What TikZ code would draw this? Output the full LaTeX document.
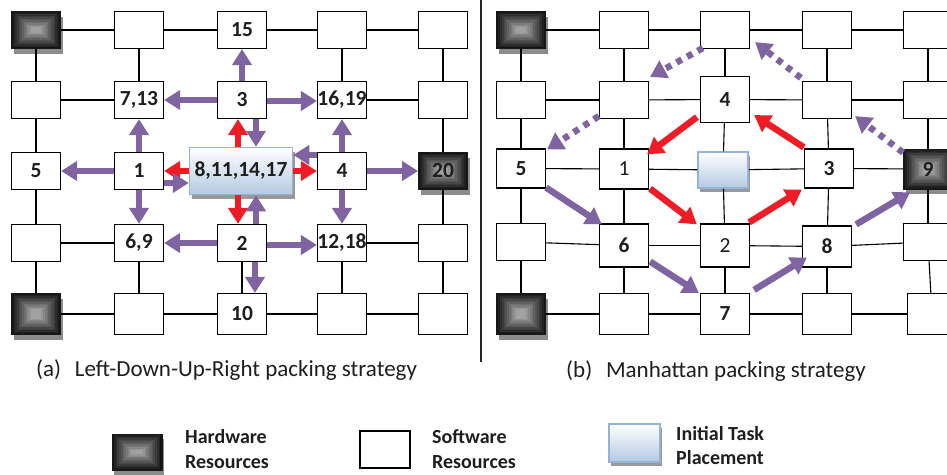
\documentclass[tikz,border=0pt]{standalone}
\usepackage{fontspec}
\setmainfont{Carlito}
\usetikzlibrary{arrows.meta,calc,shadows}
\definecolor{arrowpurple}{HTML}{8064A2}
\definecolor{arrowred}{HTML}{EE1C25}
\definecolor{taskblue}{HTML}{B4C9E3}
\definecolor{taskedge}{HTML}{95B3D7}
\definecolor{inktext}{HTML}{1E1E1E}
\begin{document}
\begin{tikzpicture}[x=1pt,y=-1pt,
  every node/.style={font=\fontsize{21.5}{25}\selectfont\bfseries, text=inktext},
  boxbase/.style={minimum width=49pt, minimum height=37pt, inner ysep=0pt, inner xsep=-12pt},
  sw/.style={boxbase, draw=black, line width=1.2pt, fill=white},
  swtall/.style={sw, minimum height=41pt},
  hw/.style={boxbase, draw=black!90, line width=0.8pt,
    drop shadow={shadow xshift=2pt, shadow yshift=-5pt, fill=black!45, opacity=1},
    path picture={
      \foreach \k in {0,...,11}{
        \pgfmathtruncatemacro\tone{92-5*\k}
        \fill[black!\tone]
          ([shift={(\k*1.75pt,\k*1.45pt)}]path picture bounding box.south west)
          rectangle
          ([shift={(-\k*1.75pt,-\k*1.45pt)}]path picture bounding box.north east);
      }
    }},
  task/.style={draw=taskedge, line width=1.5pt, top color=white, bottom color=taskblue,
    inner ysep=0pt, inner xsep=-12pt,
    drop shadow={shadow xshift=2pt, shadow yshift=-4pt, fill=black!40, opacity=1}},
  gridline/.style={draw=black, line width=1.1pt},
  tip/.style={-{Triangle[width=19pt,length=16pt]}},
  parrow/.style={draw=arrowpurple, line width=6.5pt, tip},
  rarrow/.style={draw=arrowred, line width=6.5pt, tip},
  dotarrow/.style={parrow, dash pattern=on 6pt off 6pt},
  caption/.style={font=\fontsize{23}{27}\selectfont, text=inktext, inner sep=0pt},
  keytext/.style={font=\fontsize{20}{24}\selectfont\bfseries, text=inktext, inner sep=0pt, anchor=base west},
  light/.style={font=\fontsize{21.5}{25}\selectfont}
]
\useasboundingbox (0,0) rectangle (947,474);
\clip (0,0) rectangle (947,474);

% ---------------- left mesh: Left-Down-Up-Right packing ----------------
\node[hw] (L11) at (36,30) {};
\node[sw] (L12) at (139,30) {};
\node[sw] (L13) at (242,30) {15};
\node[sw] (L14) at (342,30) {};
\node[sw] (L15) at (443,30) {};

\node[sw] (L21) at (36,100) {};
\node[sw] (L22) at (139,100) {7,13};
\node[sw] (L23) at (242,100) {3};
\node[sw] (L24) at (342,100) {16,19};
\node[sw] (L25) at (443,100) {};

\node[sw] (L31) at (36,171) {5};
\node[sw] (L32) at (139,171) {1};
\node[task, minimum width=103pt, minimum height=47pt] (L33) at (241,171) {8,11,14,17};
\node[sw] (L34) at (342,171) {4};
\node[hw] (L35) at (443,171) {20};

\node[sw] (L41) at (36,243) {};
\node[sw] (L42) at (139,243) {6,9};
\node[sw] (L43) at (242,243) {2};
\node[sw] (L44) at (342,243) {12,18};
\node[sw] (L45) at (443,243) {};

\node[hw, minimum height=41pt] (L51) at (36,314) {};
\node[swtall] (L52) at (139,314) {};
\node[swtall] (L53) at (242,314) {10};
\node[swtall] (L54) at (342,314) {};
\node[swtall] (L55) at (443,314) {};

% mesh links not hidden by arrows
\foreach \a/\b in {L11/L12,L12/L13,L13/L14,L14/L15,
                   L11/L21,L12/L22,L14/L24,L15/L25,
                   L21/L22,L24/L25,
                   L21/L31,L25/L35,L31/L41,L35/L45,
                   L41/L42,L44/L45,
                   L41/L51,L42/L52,L43/L53,L44/L54,L45/L55,
                   L51/L52,L52/L53,L53/L54,L54/L55}
  \draw[gridline] (\a) -- (\b);

% packing moves
\draw[parrow] (L23.north) -- (L13.south);
\draw[parrow] (L23.west) -- (L22.east);
\draw[parrow] ([shift={(0,1)}]L23.east) -- ([shift={(0,1)}]L24.west);
\draw[parrow] ([shift={(14,0)}]L23.south) -- ([shift={(14,0)}]L23.south |- L33.north);
\draw[rarrow] ([shift={(-3,0)}]L33.north) -- ([shift={(-3,0)}]L33.north |- L23.south);
\draw[parrow] (L32.north) -- (L22.south);
\draw[parrow] (L32.west) -- (L31.east);
\draw[rarrow] (L33.west) -- (L32.east);
\draw[parrow] ([shift={(0,12)}]L32.east) -- ([shift={(0,12)}]L33.west);
\draw[parrow] (L32.south) -- (L42.north);
\draw[rarrow] (L33.east) -- (L34.west);
\draw[parrow] ([shift={(0,-16)}]L34.west) -- ([shift={(0,-16)}]L33.east);
\draw[parrow] (L34.north) -- (L24.south);
\draw[parrow] (L34.east) -- (L35.west);
\draw[parrow] (L34.south) -- (L44.north);
\draw[rarrow] ([shift={(-3,0)}]L33.south) -- ([shift={(-3,0)}]L33.south |- L43.north);
\draw[parrow] ([shift={(14,0)}]L43.north) -- ([shift={(14,0)}]L43.north |- L33.south);
\draw[parrow] (L43.west) -- (L42.east);
\draw[parrow] ([shift={(0,2)}]L43.east) -- ([shift={(0,2)}]L44.west);
\draw[parrow] ([shift={(13,0)}]L43.south) -- ([shift={(13,0)}]L53.north);

% separator
\coordinate (sepTop) at (481,0);
\coordinate (sepBot) at (481,362);
\draw[line width=1.3pt, black!85] (sepTop) -- (sepBot);

% ---------------- right mesh: Manhattan packing ----------------
\node[hw] (R11) at (521,30) {};
\node[sw] (R12) at (624,30) {};
\node[sw] (R13) at (725,30) {};
\node[sw] (R14) at (827,30) {};
\node[sw] (R15) at (928,30) {};

\node[sw] (R21) at (521,100) {};
\node[sw] (R22) at (624,100) {};
\node[sw, minimum height=46pt] (R23) at (725,99.5) {4};
\node[sw] (R24) at (827,100) {};
\node[sw] (R25) at (928,100) {};

\node[sw, minimum height=39pt] (R31) at (521,168.5) {5};
\node[sw, light, minimum height=40pt] (R32) at (624,169) {1};
\node[task, minimum width=50pt, minimum height=36pt] (R33) at (723,170) {};
\node[sw, minimum height=39pt] (R34) at (829,168.5) {3};
\node[hw, minimum height=40pt] (R35) at (928,169) {9};

\node[sw] (R41) at (521,242) {};
\node[sw, minimum height=43pt] (R42) at (624,245.5) {6};
\node[sw, light, minimum height=43pt] (R43) at (725,245.5) {2};
\node[sw, minimum height=41pt] (R44) at (827,246.5) {8};
\node[sw] (R45) at (928,242) {};

\node[hw, minimum height=41pt] (R51) at (521,314) {};
\node[swtall] (R52) at (624,314) {};
\node[swtall] (R53) at (725,314) {7};
\node[swtall] (R54) at (827,314) {};
\node[swtall] (R55) at (932,314) {};

% full mesh links
\foreach \a/\b in {R11/R12,R12/R13,R13/R14,R14/R15,
                   R21/R22,R22/R23,R23/R24,R24/R25,
                   R31/R32,R32/R33,R33/R34,R34/R35,
                   R41/R42,R42/R43,R43/R44,R44/R45,
                   R51/R52,R52/R53,R53/R54,R54/R55,
                   R11/R21,R21/R31,R31/R41,R41/R51,
                   R12/R22,R22/R32,R32/R42,R42/R52,
                   R13/R23,R23/R33,R33/R43,R43/R53,
                   R14/R24,R24/R34,R34/R44,R44/R54,
                   R15/R25,R25/R35,R35/R45,R45/R55}
  \draw[gridline] (\a) -- (\b);

% inner ring (red)
\draw[rarrow] ([shift={(-3,-6)}]R23.south west) -- ([shift={(-2,6)}]R32.north east);
\draw[rarrow] ([shift={(1,-1)}]R32.south east) -- ([shift={(-3,1)}]R43.north west);
\draw[rarrow] ([shift={(-1,-1)}]R43.north east) -- ([shift={(-2,1)}]R34.south west);
\draw[rarrow] ([shift={(0,-1)}]R34.north west) -- ([shift={(4,-8)}]R23.south east);
% outer ring (solid purple)
\draw[parrow] ([shift={(0,-1)}]R31.south east) -- ([shift={(3,1)}]R42.north west);
\draw[parrow] ([shift={(1,-6)}]R42.south east) -- ([shift={(-1,0)}]R53.north west);
\draw[parrow] ([shift={(4,-3)}]R53.north east) -- ([shift={(5,-10)}]R44.south west);
\draw[parrow] ([shift={(4,-1)}]R44.north east) -- ([shift={(7,3)}]R35.south west);
% outer ring (dotted purple)
\draw[dotarrow] ([shift={(0,4)}]R35.north west) -- ([shift={(3,-3)}]R24.south east);
\draw[dotarrow] ([shift={(-1,-3)}]R24.north west) -- ([shift={(5,-7)}]R13.south east);
\draw[dotarrow] ([shift={(3,-1)}]R13.south west) -- ([shift={(1,-4)}]R22.north east);
\draw[dotarrow] ([shift={(0,-3)}]R22.south west) -- ([shift={(1,1)}]R31.north east);

% ---------------- captions ----------------
\node[caption, anchor=base west] (capA) at (36,376) {(a)\hspace{0.6em}Left-Down-Up-Right packing strategy};
\node[caption, anchor=base west] (capB) at (566,377) {(b)\hspace{0.6em}Manhattan packing strategy};

% ---------------- key ----------------
\node[hw, minimum width=50pt, minimum height=36pt] (keyHW) at (137,452) {};
\node[keytext] (keyHWa) at (185,443) {Hardware};
\node[keytext] (keyHWb) at (185,468) {Resources};

\node[sw, minimum width=50pt, minimum height=37pt] (keySW) at (385,449.5) {};
\node[keytext] (keySWa) at (432,443) {Software};
\node[keytext] (keySWb) at (432,468) {Resources};

\node[task, minimum width=51pt, minimum height=38pt] (keyTask) at (634.5,443) {};
\node[keytext] (keyTaskA) at (676,440) {Initial Task};
\node[keytext] (keyTaskB) at (676,464) {Placement};
\end{tikzpicture}
\end{document}
